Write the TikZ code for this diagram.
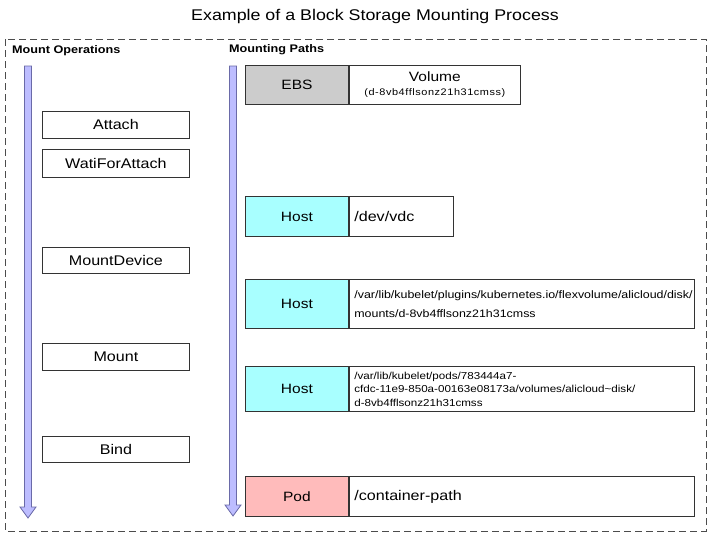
\documentclass[tikz,border=0pt]{standalone}
\usepackage{fontspec}
\setmainfont[FakeStretch=1.15]{Liberation Sans}
\definecolor{ebsgray}{HTML}{CCCCCC}
\definecolor{hostcyan}{HTML}{A8FFFF}
\definecolor{podpink}{HTML}{FFBBBB}
\definecolor{arrowfill}{HTML}{BDBDFF}
\definecolor{arrowline}{HTML}{6A6AA8}
\definecolor{boxline}{HTML}{333333}
\begin{document}
\begin{tikzpicture}[x=1pt,y=-1pt,
  frame/.style={draw=black!70, line width=1pt, dash pattern=on 7pt off 4pt},
  flowarrow/.style={fill=arrowfill, draw=arrowline, line width=0.8pt, line join=miter},
  opbox/.style={draw=boxline, line width=0.8pt, minimum width=147pt, anchor=north west, inner sep=0pt, font=\fontsize{14}{16}\selectfont},
  labbox/.style={draw=boxline, line width=0.9pt, minimum width=103pt, anchor=north west, inner sep=0pt, font=\fontsize{13.5}{16}\selectfont},
  pathbox/.style={draw=boxline, line width=0.9pt, anchor=north west, inner xsep=5pt, inner ysep=0pt, align=left},
  heading/.style={anchor=west, inner sep=0pt, font=\bfseries\fontsize{11}{13}\selectfont}
]
\useasboundingbox (0,0) rectangle (717,539);
% title
\node[inner sep=0pt, font=\fontsize{15.5}{18}\selectfont] (title) at (375,16) {Example of a Block Storage Mounting Process};
% frame
\draw[frame] (5,39) rectangle (706,531);
% headings
\node[heading] (hops) at (12,51) {Mount Operations};
\node[heading] (hpaths) at (229,50) {Mounting Paths};
% arrows
\draw[flowarrow] (24.5,66) -- (31.5,66) -- (31.5,507) -- (36,507) -- (28,518) -- (20,507) -- (24.5,507) -- cycle;
\draw[flowarrow] (229.5,66) -- (236.5,66) -- (236.5,505) -- (241,505) -- (233,516) -- (225,505) -- (229.5,505) -- cycle;
% operations
\node[opbox, minimum height=27pt] (attach) at (42,111) {Attach};
\node[opbox, minimum height=28pt] (wait) at (42,149) {WatiForAttach};
\node[opbox, minimum height=26pt] (mountdev) at (42,247) {MountDevice};
\node[opbox, minimum height=27pt] (mount) at (42,343) {Mount};
\node[opbox, minimum height=26pt] (bind) at (42,436) {Bind};
% EBS
\node[labbox, fill=ebsgray, minimum height=39pt] (ebs) at (245,65) {EBS};
\node[draw=boxline, line width=0.9pt, anchor=north west, minimum width=171pt, minimum height=39pt, inner sep=0pt, align=center] (vol) at (ebs.north east)
  {{\fontsize{13.5}{16}\selectfont Volume}\\[2pt]{\fontsize{9.5}{12}\selectfont\addfontfeature{LetterSpace=6}(d-8vb4fflsonz21h31cmss)}};
% Host 1
\node[labbox, fill=hostcyan, minimum height=40pt] (host1) at (245,196) {Host};
\node[pathbox, minimum height=40pt, text width=94pt, font=\fontsize{14}{16}\selectfont] (dev) at (host1.north east) {/dev/vdc};
% Host 2
\node[labbox, fill=hostcyan, minimum height=49pt] (host2) at (245,279) {Host};
\node[pathbox, minimum height=49pt, text width=335pt, font=\fontsize{10.8}{19}\selectfont] (plug) at (host2.north east)
  {/var/lib/kubelet/plugins/kubernetes.io/flexvolume/alicloud/disk/\\mounts/d-8vb4fflsonz21h31cmss};
% Host 3
\node[labbox, fill=hostcyan, minimum height=45pt] (host3) at (245,366) {Host};
\node[pathbox, minimum height=45pt, text width=335pt, font=\fontsize{10.1}{13.5}\selectfont] (pods) at (host3.north east)
  {/var/lib/kubelet/pods/783444a7-\\cfdc-11e9-850a-00163e08173a/volumes/alicloud\char`~disk/\\d-8vb4fflsonz21h31cmss};
% Pod
\node[labbox, fill=podpink, minimum height=40pt] (pod) at (245,476) {Pod};
\node[pathbox, minimum height=40pt, text width=335pt, font=\fontsize{14}{16}\selectfont] (cpath) at (pod.north east) {/container-path};
\end{tikzpicture}
\end{document}
